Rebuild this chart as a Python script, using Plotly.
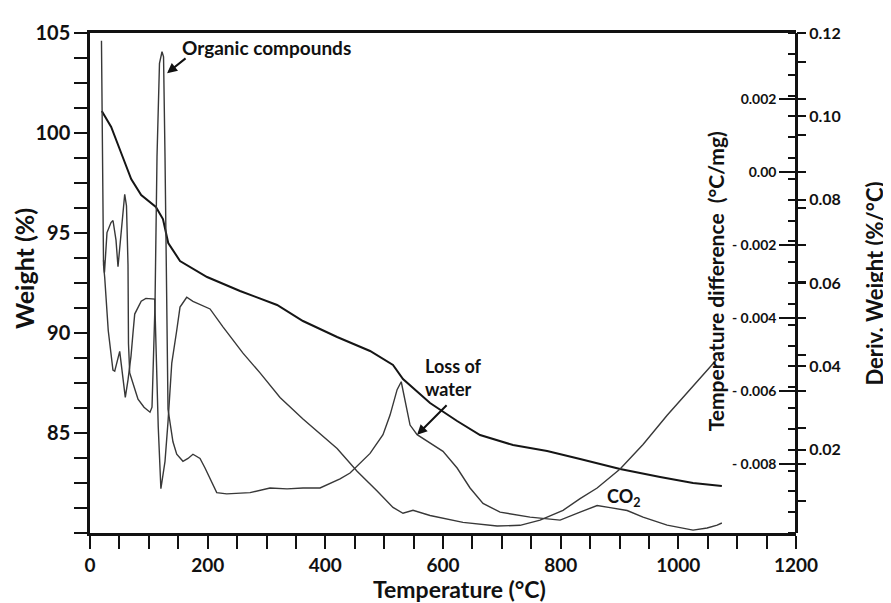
import plotly.graph_objects as go

# ---- TGA: weight (%) ----
tga_T = [20, 36, 53, 70, 87, 112, 124, 133, 153, 199, 255, 318, 362, 420, 476, 515, 532,
         578, 624, 663, 719, 777, 833, 901, 969, 1025, 1074]
tga_W = [101.1, 100.3, 99.0, 97.7, 96.9, 96.3, 95.7, 94.5, 93.6, 92.8, 92.1, 91.4, 90.6,
         89.8, 89.1, 88.4, 87.7, 86.5, 85.6, 84.9, 84.4, 84.1, 83.7, 83.2, 82.8, 82.5, 82.35]

# ---- DTA: temperature difference (°C/mg) ----
dta_T = [19.5, 23, 25, 31, 39, 42, 50.5, 60, 64.6, 69.7, 73, 76, 87, 95, 110, 112.5, 116,
         120.5, 127.5, 132.6, 139, 147.4, 153, 164.4, 175, 204, 226, 260, 289, 323, 362, 420,
         454, 488, 515, 532, 549, 578, 634, 692, 731, 765, 804, 833, 862, 901, 940, 981,
         1025, 1066]
dta_V = [0.00359, -0.00254, -0.00289, -0.00434, -0.00542, -0.00545, -0.00491, -0.00617,
         -0.00569, -0.00504, -0.00442, -0.00389, -0.00354, -0.00346, -0.00348, -0.00496,
         -0.00698, -0.00867, -0.00792, -0.00684, -0.00523, -0.00434, -0.00370, -0.00343,
         -0.00354, -0.00375, -0.00424, -0.00496, -0.00550, -0.00617, -0.00676, -0.00757,
         -0.00819, -0.00873, -0.00918, -0.00934, -0.00926, -0.00940, -0.00959, -0.00969,
         -0.00967, -0.00953, -0.00926, -0.00894, -0.00865, -0.00813, -0.00746, -0.00666,
         -0.00585, -0.00512]

# ---- DTG: derivative weight (%/°C) ----
dtg_T = [23, 24.6, 28.9, 35.7, 39.1, 44.2, 47.6, 52.7, 59, 62, 64.6, 65.4, 67.5, 76.5, 81.6,
         91.8, 102, 105.4, 110.5, 113.9, 118.1, 122.4, 125, 127.5, 130.4, 132.6, 141, 147.4,
         158, 166.6, 175, 187, 195.5, 204, 215.4, 232.4, 272, 306, 335, 362, 391, 425, 442,
         476, 498, 510, 522, 529, 535, 544, 556, 578, 600, 624, 646, 668, 697, 748, 799, 833,
         862, 884, 913, 940, 981, 1025, 1049, 1066, 1074]
dtg_V = [0.0655, 0.0625, 0.0721, 0.0745, 0.0750, 0.0703, 0.0639, 0.0714, 0.0813, 0.0785,
         0.0644, 0.0455, 0.0384, 0.0344, 0.0321, 0.0302, 0.0290, 0.0302, 0.0549, 0.0903,
         0.1127, 0.1155, 0.1143, 0.0903, 0.0549, 0.0297, 0.0219, 0.0189, 0.0172, 0.0179,
         0.0189, 0.0179, 0.0156, 0.0132, 0.0097, 0.0094, 0.0097, 0.0108, 0.0106, 0.0108,
         0.0108, 0.0130, 0.0144, 0.0191, 0.0236, 0.0283, 0.0344, 0.0363, 0.0321, 0.0259,
         0.0236, 0.0215, 0.0196, 0.0156, 0.0108, 0.0071, 0.0050, 0.0038, 0.0031, 0.0050,
         0.0066, 0.0061, 0.0054, 0.0038, 0.0019, 0.0007, 0.0012, 0.0019, 0.0024]

# ---- tick labels ----
x_ticks = [0, 200, 400, 600, 800, 1000, 1200]
w_ticks = [85, 90, 95, 100, 105]
dta_ticks = [0.002, 0.0, -0.002, -0.004, -0.006, -0.008]
dta_ticktext = ["0.002", "0.00", "- 0.002", "- 0.004", "- 0.006", "- 0.008"]
dtg_ticks = [0.02, 0.04, 0.06, 0.08, 0.10, 0.12]
dtg_ticktext = ["0.02", "0.04", "0.06", "0.08", "0.10", "0.12"]

FONT = "Lato"
LC = "#111111"
TF_X = dict(size=19, family=FONT, color="#111", weight="bold")
TF_Y = dict(size=20, family=FONT, color="#111", weight="bold")
TF_DTA = dict(size=14, family=FONT, color="#111", weight="bold")
TF_DTG = dict(size=16, family=FONT, color="#111", weight="bold")

fig = go.Figure()
fig.add_trace(go.Scatter(x=tga_T, y=tga_W, mode="lines", line=dict(color="#151515", width=2),
                         yaxis="y", showlegend=False))
fig.add_trace(go.Scatter(x=dta_T, y=dta_V, mode="lines", line=dict(color="#383838", width=1.4),
                         yaxis="y2", showlegend=False))
fig.add_trace(go.Scatter(x=dtg_T, y=dtg_V, mode="lines", line=dict(color="#383838", width=1.4),
                         yaxis="y3", showlegend=False))

fig.update_layout(
    width=891, height=603,
    margin=dict(l=82, r=103, t=16, b=78),
    paper_bgcolor="white", plot_bgcolor="white",
    font=dict(family=FONT, color="#111111"),
    xaxis=dict(range=[0, 1200], tickvals=x_ticks, showgrid=False, zeroline=False,
               showline=True, mirror=True, linecolor=LC, linewidth=2.5,
               ticks="outside", ticklen=13, tickwidth=2, tickcolor=LC, tickfont=TF_X,
               minor=dict(dtick=50, tick0=0, ticks="outside", ticklen=13, tickwidth=2,
                          tickcolor=LC, showgrid=False)),
    yaxis=dict(range=[80, 105], tickvals=w_ticks, showgrid=False, zeroline=False,
               showline=True, linecolor=LC, linewidth=2.5,
               ticks="outside", ticklen=13, tickwidth=2, tickcolor=LC, tickfont=TF_Y,
               minor=dict(dtick=1.25, tick0=80, ticks="outside", ticklen=13, tickwidth=2,
                          tickcolor=LC, showgrid=False)),
    yaxis2=dict(range=[-0.00988, 0.0038], overlaying="y", side="left", anchor="free",
                position=1.0, tickvals=dta_ticks, ticktext=dta_ticktext,
                showgrid=False, zeroline=False, showline=True, linecolor=LC, linewidth=2.5,
                ticks="outside", ticklen=16, tickwidth=2, tickcolor=LC, tickfont=TF_DTA,
                minor=dict(dtick=0.001, tick0=0, ticks="inside", ticklen=8, tickwidth=2,
                           tickcolor=LC, showgrid=False)),
    yaxis3=dict(range=[0, 0.12], overlaying="y", side="right", anchor="free", position=1.0,
                tickvals=dtg_ticks, ticktext=dtg_ticktext, showgrid=False, zeroline=False,
                showline=False, ticks="outside", ticklen=9, tickwidth=2, tickcolor=LC,
                tickfont=TF_DTG,
                minor=dict(dtick=0.005, tick0=0, ticks="inside", ticklen=8, tickwidth=2,
                           tickcolor=LC, showgrid=False)),
)

bold = dict(family=FONT, color="#111111")
ann = [
    dict(text="<b>Weight (%)</b>", x=-0.0935, y=0.53, xref="paper", yref="paper",
         xanchor="center", yanchor="middle", textangle=-90, showarrow=False,
         font=dict(size=25, **bold)),
    dict(text="<b>Temperature (°C)</b>", x=0.524, y=-0.1115, xref="paper", yref="paper",
         xanchor="center", yanchor="middle", showarrow=False, font=dict(size=23, **bold)),
    dict(text="<b>Temperature difference  (°C/mg)</b>", x=0.8865, y=0.503, xref="paper",
         yref="paper", xanchor="center", yanchor="middle", textangle=-90, showarrow=False,
         font=dict(size=21, **bold)),
    dict(text="<b>Deriv. Weight (%/°C)</b>", x=1.1105, y=0.499, xref="paper", yref="paper",
         xanchor="center", yanchor="middle", textangle=-90, showarrow=False,
         font=dict(size=22, **bold)),
    dict(text="<b>Organic compounds</b>", x=153, y=104.26, xref="x", yref="y",
         xanchor="left", yanchor="middle", showarrow=False, font=dict(size=19, **bold)),
    dict(text="", x=131, y=102.99, xref="x", yref="y", showarrow=True, ax=20, ay=-16,
         arrowhead=2, arrowsize=1, arrowwidth=2, arrowcolor="#111"),
    dict(text="<b>Loss of<br>water</b>", x=566, y=87.76, xref="x", yref="y",
         xanchor="left", yanchor="middle", align="left", showarrow=False,
         font=dict(size=18, **bold)),
    dict(text="", x=556, y=84.91, xref="x", yref="y", showarrow=True, ax=31, ay=-31,
         arrowhead=2, arrowsize=1, arrowwidth=2, arrowcolor="#111"),
    dict(text="<b>CO<sub>2</sub></b>", x=875, y=81.77, xref="x", yref="y",
         xanchor="left", yanchor="middle", showarrow=False, font=dict(size=18, **bold)),
]
fig.update_layout(annotations=ann)

fig.write_html("out.html")
